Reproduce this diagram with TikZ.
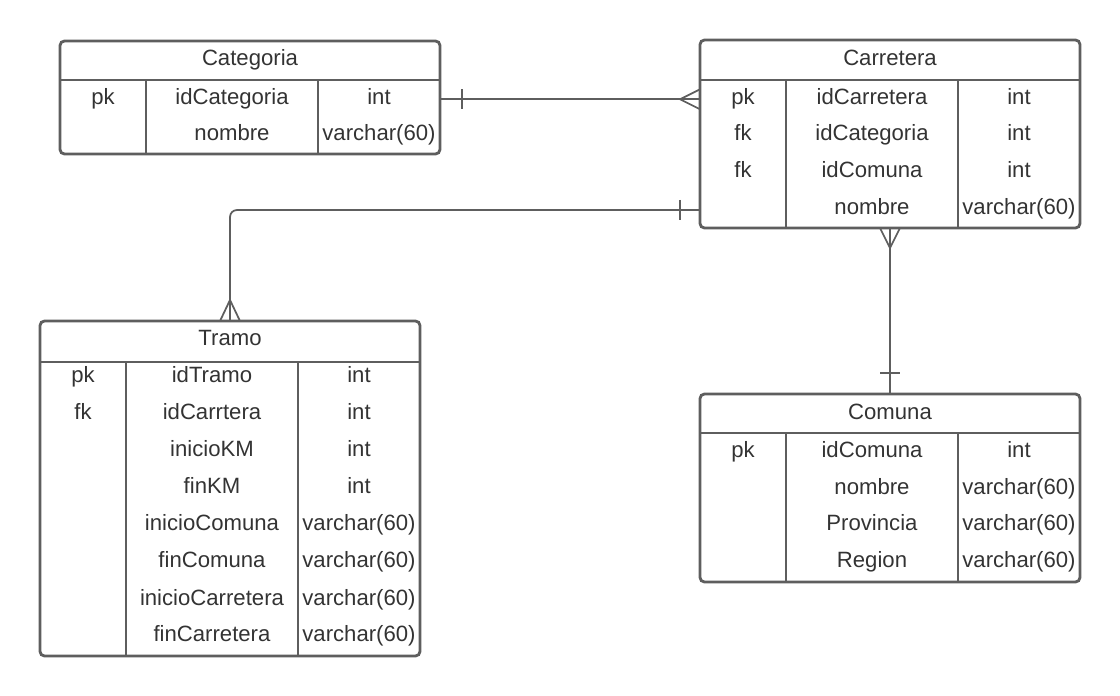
\documentclass[tikz,border=0pt]{standalone}
\usepackage{fontspec}
\setmainfont{Liberation Sans}
\usetikzlibrary{calc}
\definecolor{linegray}{HTML}{5E5E5E}
\definecolor{textgray}{HTML}{333333}
\tikzset{
  tbl/.style={draw=linegray, line width=1.6pt, rounded corners=2.5pt, outer sep=0pt, inner sep=0pt},
  div/.style={draw=linegray, line width=1.6pt},
  cell/.style={text=textgray, font=\fontsize{12.6}{15}\selectfont, inner sep=0pt, text height=9pt, text depth=2.6pt, yshift=-1.3pt},
  rel/.style={draw=linegray, line width=1pt},
}
\begin{document}
\begin{tikzpicture}[x=0.02cm, y=-0.02cm]
\useasboundingbox (0,0) rectangle (1120,696);
% Categoria
\node[tbl, minimum width=7.6cm, minimum height=2.26cm] (categoria) at (250,97.5) {};
\draw[div] (60,80) -- (440,80) (146,80) -- (146,154) (318,80) -- (318,154);
\node[cell] (cat-title) at (250,58) {Categoria};
\node[cell] (cat-pk) at (103,97) {pk};
\node[cell] (cat-id) at (232,97) {idCategoria};
\node[cell] (cat-idt) at (379,97) {int};
\node[cell] (cat-nom) at (232,133) {nombre};
\node[cell] (cat-nomt) at (379,133) {varchar(60)};
% Carretera
\node[tbl, minimum width=7.6cm, minimum height=3.76cm] (carretera) at (890,134) {};
\draw[div] (700,80) -- (1080,80) (786,80) -- (786,228) (958,80) -- (958,228);
\node[cell] (car-title) at (890,58) {Carretera};
\foreach \k/\a/\b/\c/\y in {pk/pk/idCarretera/int/97, cat/fk/idCategoria/int/133,
    com/fk/idComuna/int/170, nom//nombre/varchar(60)/207}{
  \node[cell] (car-\k-1) at (743,\y) {\a};
  \node[cell] (car-\k-2) at (872,\y) {\b};
  \node[cell] (car-\k-3) at (1019,\y) {\c};
}
% Tramo
\node[tbl, minimum width=7.6cm, minimum height=6.7cm] (tramo) at (230,488.5) {};
\draw[div] (40,362) -- (420,362) (126,362) -- (126,656) (298,362) -- (298,656);
\node[cell] (tra-title) at (230,338) {Tramo};
\foreach \k/\a/\b/\c/\y in {pk/pk/idTramo/int/375, car/fk/idCarrtera/int/412,
    ikm//inicioKM/int/449, fkm//finKM/int/486, icom//inicioComuna/varchar(60)/523,
    fcom//finComuna/varchar(60)/560, icar//inicioCarretera/varchar(60)/598,
    fcar//finCarretera/varchar(60)/634}{
  \node[cell] (tra-\k-1) at (83,\y) {\a};
  \node[cell] (tra-\k-2) at (212,\y) {\b};
  \node[cell] (tra-\k-3) at (359,\y) {\c};
}
% Comuna
\node[tbl, minimum width=7.6cm, minimum height=3.76cm] (comuna) at (890,488) {};
\draw[div] (700,433) -- (1080,433) (786,433) -- (786,582) (958,433) -- (958,582);
\node[cell] (com-title) at (890,412) {Comuna};
\foreach \k/\a/\b/\c/\y in {pk/pk/idComuna/int/450, nom//nombre/varchar(60)/487,
    pro//Provincia/varchar(60)/523, reg//Region/varchar(60)/560}{
  \node[cell] (com-\k-1) at (743,\y) {\a};
  \node[cell] (com-\k-2) at (872,\y) {\b};
  \node[cell] (com-\k-3) at (1019,\y) {\c};
}
% Categoria - Carretera
\draw[rel] (categoria.east |- car-pk-1) -- (carretera.west |- car-pk-1);
\draw[rel] ($(categoria.east |- car-pk-1)+(22,-10)$) -- ++(0,20);
\draw[rel] ($(carretera.west |- car-pk-1)+(0,-10)$) -- ++(-20,10) -- ++(20,10);
% Carretera - Tramo
\draw[rel, rounded corners=4pt] ($(carretera.west)+(0,76)$) -| (tramo.north);
\draw[rel] ($(carretera.west)+(-20,66)$) -- ++(0,20);
\draw[rel] ($(tramo.north)+(-10,0)$) -- ++(10,-21) -- ++(10,21);
% Carretera - Comuna
\draw[rel] (carretera.south) -- (comuna.north);
\draw[rel] ($(carretera.south)+(-10,0)$) -- ++(10,20) -- ++(10,-20);
\draw[rel] ($(comuna.north)+(-10,-21)$) -- ++(20,0);
\end{tikzpicture}
\end{document}
